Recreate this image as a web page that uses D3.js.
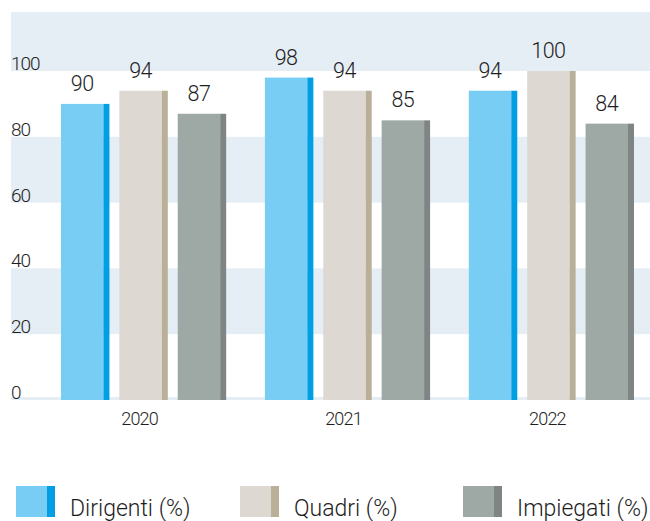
<!DOCTYPE html>
<html>
<head>
<meta charset="utf-8">
<script src="https://cdn.jsdelivr.net/npm/d3@7"></script>
<style>
  html, body { margin: 0; padding: 0; background: #fff; }
  svg { display: block; }
  text { font-family: Roboto, "Liberation Sans", sans-serif; font-weight: 300; fill: #1e1e1e; }
</style>
</head>
<body>
<svg id="chart" width="650" height="521"></svg>
<script>
// Anni e valori per categoria (%)
const years = ["2020", "2021", "2022"];
const series = ["Dirigenti (%)", "Quadri (%)", "Impiegati (%)"];
const dirigenti = [90, 98, 94];
const quadri = [94, 94, 100];
const impiegati = [87, 85, 84];
const yTicks = [0, 20, 40, 60, 80, 100];

const values = [dirigenti, quadri, impiegati];
const mainColors = ["#77cdf4", "#ddd8d1", "#9ea8a5"];
const edgeColors = ["#009fe3", "#bab099", "#7f8584"];

const svg = d3.select("#chart");
const W = 650;

const y = d3.scaleLinear().domain([0, 100]).range([400, 71]);
const x0 = d3.scaleBand().domain(years).range([61, 634]).paddingInner(0.19).paddingOuter(0);
const x1 = d3.scaleBand().domain(series).range([0, x0.bandwidth()]).paddingInner(0.17);
const edge = 6;

// Fasce di sfondo alternate
const bands = svg.append("g");
bands.append("rect").attr("x", 11).attr("y", 12).attr("width", W - 11).attr("height", y(100) - 12).attr("fill", "#e5edf5");
[[60, 80], [20, 40]].forEach(([a, b]) => {
  bands.append("rect").attr("x", 11).attr("y", y(b)).attr("width", W - 11)
    .attr("height", y(a) - y(b)).attr("fill", "#e5edf5");
});
bands.append("rect").attr("x", 11).attr("y", y(0) - 3).attr("width", W - 11).attr("height", 3).attr("fill", "#e5edf5");

// Etichette asse Y
svg.append("g").selectAll("text").data(yTicks).join("text")
  .attr("x", 11).attr("y", d => y(d) - 1)
  .attr("font-size", 19).attr("letter-spacing", "-1px")
  .text(d => d);

// Barre
const groups = svg.append("g").selectAll("g").data(years).join("g")
  .attr("transform", d => `translate(${x0(d)},0)`);

groups.each(function(year, yi) {
  const g = d3.select(this);
  series.forEach((s, si) => {
    const v = values[si][yi];
    const bx = x1(s), bw = x1.bandwidth();
    g.append("rect").attr("x", bx).attr("y", y(v)).attr("width", bw - edge)
      .attr("height", y(0) - y(v)).attr("fill", mainColors[si]);
    g.append("rect").attr("x", bx + bw - edge).attr("y", y(v)).attr("width", edge)
      .attr("height", y(0) - y(v)).attr("fill", edgeColors[si]);
    g.append("text").attr("x", bx + (bw - edge) / 2).attr("y", y(v) - 13)
      .attr("text-anchor", "middle").attr("font-size", 21.5).attr("letter-spacing", "-0.5px")
      .text(v);
  });
});

// Etichette asse X
svg.append("g").selectAll("text").data(years).join("text")
  .attr("x", d => x0(d) + x0.bandwidth() / 2 - 4).attr("y", 425)
  .attr("text-anchor", "middle").attr("font-size", 18).attr("letter-spacing", "-0.8px")
  .text(d => d);

// Legenda
const legendX = [16, 240, 463];
const legend = svg.append("g").selectAll("g").data(series).join("g")
  .attr("transform", (d, i) => `translate(${legendX[i]},486)`);
legend.append("rect").attr("width", 31).attr("height", 31).attr("fill", (d, i) => mainColors[i]);
legend.append("rect").attr("x", 31).attr("width", 8).attr("height", 31).attr("fill", (d, i) => edgeColors[i]);
legend.append("text").attr("x", 54).attr("y", 29.5).attr("font-size", 23)
  .text(d => d);
</script>
</body>
</html>
